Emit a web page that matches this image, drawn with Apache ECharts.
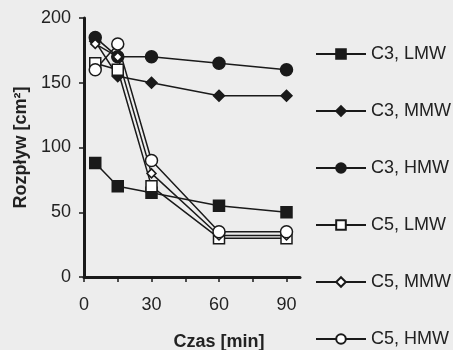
<!DOCTYPE html>
<html>
<head>
<meta charset="utf-8">
<script src="https://cdn.jsdelivr.net/npm/echarts@6/dist/echarts.min.js"></script>
<style>
  html, body { margin: 0; padding: 0; background: #ededed; }
  #chart { width: 453px; height: 350px; }
</style>
</head>
<body>
<div id="chart"></div>
<script>
// czas pomiaru [min]
const times = [5, 15, 30, 60, 90]
const seriesNames = ['C3, LMW', 'C3, MMW', 'C3, HMW', 'C5, LMW', 'C5, MMW', 'C5, HMW']
const c3LMW = [88, 70, 65, 55, 50]
const c3MMW = [182, 155, 150, 140, 140]
const c3HMW = [185, 170, 170, 165, 160]
const c5LMW = [165, 160, 70, 30, 30]
const c5MMW = [180, 170, 80, 32, 32]
const c5HMW = [160, 180, 90, 35, 35]
const xLabels = [0, 30, 60, 90]

const allValues = [c3LMW, c3MMW, c3HMW, c5LMW, c5MMW, c5HMW]
const symbols = ['rect', 'diamond', 'circle', 'rect', 'diamond', 'circle']
const symbolSizes = [11, 11, 12, 11, 9, 12]
const filled = [true, true, true, false, false, false]

let series = []
for (let i = 0; i < seriesNames.length; i++) {
  series.push({
    name: seriesNames[i],
    type: 'line',
    data: times.map((t, j) => [t, allValues[i][j]]),
    symbol: symbols[i],
    symbolSize: symbolSizes[i],
    showAllSymbol: true,
    lineStyle: { color: '#1a1a1a', width: 1.5 },
    itemStyle: {
      color: filled[i] ? '#1a1a1a' : '#ffffff',
      borderColor: '#1a1a1a',
      borderWidth: 1.5
    },
    emphasis: { disabled: true },
    z: filled[i] ? 3 : 4
  })
}

const option = {
  backgroundColor: '#ededed',
  animation: false,
  textStyle: { fontFamily: 'Liberation Sans, Arial, sans-serif' },
  grid: { left: 84, right: 153, top: 18, bottom: 73, outerBoundsMode: 'none' },
  legend: {
    orient: 'vertical',
    left: 315,
    top: 45,
    padding: 0,
    itemWidth: 50,
    itemHeight: 12,
    itemGap: 39,
    textStyle: { fontSize: 18, color: '#222' },
    data: seriesNames
  },
  xAxis: {
    type: 'value',
    min: 0,
    max: 96,
    interval: 15,
    name: 'Czas [min]',
    nameLocation: 'middle',
    nameGap: 56,
    nameTextStyle: { fontSize: 18, fontWeight: 'bold', color: '#222', padding: [0, 0, 0, 54] },
    splitLine: { show: false },
    axisLine: { lineStyle: { color: '#1a1a1a', width: 3 } },
    axisTick: { length: 5, lineStyle: { color: '#1a1a1a', width: 1.5 } },
    axisLabel: {
      fontSize: 18,
      color: '#222',
      margin: 19,
      showMaxLabel: false,
      formatter: v => xLabels.includes(v) ? String(v) : ''
    }
  },
  yAxis: {
    type: 'value',
    min: 0,
    max: 200,
    interval: 50,
    name: 'Rozpływ [cm²]',
    nameLocation: 'middle',
    nameGap: 54,
    nameTextStyle: { fontSize: 18, fontWeight: 'bold', color: '#222' },
    splitLine: { show: false },
    axisLine: { show: true, lineStyle: { color: '#1a1a1a', width: 3 } },
    axisTick: { show: true, length: 5, lineStyle: { color: '#1a1a1a', width: 1.5 } },
    axisLabel: { fontSize: 18, color: '#222', margin: 13 }
  },
  series: series
}

let c = echarts.init(document.getElementById('chart'))
c.setOption(option)
</script>
</body>
</html>
